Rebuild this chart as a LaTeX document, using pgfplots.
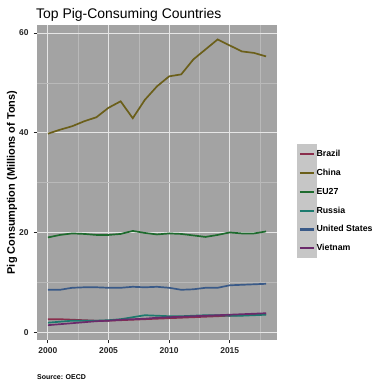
\documentclass[border=0pt]{standalone}
\usepackage{pgfplots}
\pgfplotsset{compat=1.18}
\usepackage{fontspec}
\setmainfont{Liberation Sans}
\definecolor{panelgray}{HTML}{A3A3A3}
\definecolor{gridmajor}{HTML}{E6E6E6}
\definecolor{gridminor}{HTML}{B9B9B9}
\definecolor{keygray}{HTML}{C6C6C6}
\definecolor{txt}{HTML}{262626}
\definecolor{cBrazil}{HTML}{8A2E4C}
\definecolor{cChina}{HTML}{6B5F1A}
\definecolor{cEU}{HTML}{1E6B2E}
\definecolor{cRussia}{HTML}{1C7A6E}
\definecolor{cUS}{HTML}{3A5A88}
\definecolor{cVietnam}{HTML}{6B2A6B}
\begin{document}
\begin{tikzpicture}[x=1bp,y=1bp]
\useasboundingbox (0,0) rectangle (388,388);
\node[anchor=base west, inner sep=0pt, font=\fontsize{14}{16}\selectfont, text=black] at (36,370) {Top Pig-Consuming Countries};
\node[anchor=base west, inner sep=0pt, font=\fontsize{7}{8}\selectfont\bfseries, text=black] at (37,9) {Source: OECD};
\begin{axis}[
  scale only axis, width=240bp, height=315bp,
  at={(37bp,48bp)}, anchor=south west,
  xmin=1999.1, xmax=2018.9, ymin=-1.57, ymax=61.6,
  axis background/.style={fill=panelgray},
  axis line style={draw=none},
  grid=both,
  major grid style={gridmajor, line width=0.9pt},
  minor grid style={gridminor, line width=0.45pt},
  xtick={2000,2005,2010,2015},
  minor xtick={2002.5,2007.5,2012.5,2017.5},
  ytick={0,20,40,60},
  minor ytick={10,30,50},
  tick align=outside,
  major tick length=3.5bp, minor tick length=0pt,
  major tick style={txt, line width=0.9pt},
  xtick pos=bottom, ytick pos=left,
  x tick label style={/pgf/number format/1000 sep={}},
  ticklabel style={font=\fontsize{8.5}{10}\selectfont\bfseries, text=txt},
  yticklabel style={xshift=-1.5bp},
  xticklabel style={yshift=-1bp},
  /pgf/number format/assume math mode=true,
  ylabel={Pig Consumption (Millions of Tons)},
  ylabel style={at={(axis description cs:-0.104,0.5)}, anchor=center, font=\fontsize{11}{13}\selectfont\bfseries, text=black},
  legend cell align=left,
  legend style={at={(rel axis cs:1.083,0.622)}, anchor=north west, draw=none, fill=none,
    font=\fontsize{8.8}{10}\selectfont\bfseries, text=black, inner sep=0pt, row sep=-0.5bp,
    nodes={inner sep=0pt}},
  legend image code/.code={\fill[keygray] (0bp,-8.85bp) rectangle (17.7bp,8.85bp); \draw[#1, line width=2.1pt] (2bp,0bp) -- (15.7bp,0bp);},
  every axis plot/.append style={line width=1.7pt},
  /tikz/every even column/.append style={column sep=6bp},
]
\addplot[cBrazil] coordinates {(2000,2.6)(2001,2.6)(2002,2.5)(2003,2.4)(2004,2.3)(2005,2.3)(2006,2.4)(2007,2.5)(2008,2.6)(2009,2.7)(2010,2.8)(2011,2.9)(2012,3.0)(2013,3.1)(2014,3.2)(2015,3.3)(2016,3.4)(2017,3.5)(2018,3.6)};
\addlegendentry{Brazil}
\addplot[cChina] coordinates {(2000,39.8)(2001,40.6)(2002,41.3)(2003,42.3)(2004,43.1)(2005,45.0)(2006,46.3)(2007,42.9)(2008,46.6)(2009,49.3)(2010,51.3)(2011,51.7)(2012,54.7)(2013,56.7)(2014,58.7)(2015,57.5)(2016,56.3)(2017,56.0)(2018,55.3)};
\addlegendentry{China}
\addplot[cEU] coordinates {(2000,19.0)(2001,19.5)(2002,19.8)(2003,19.7)(2004,19.5)(2005,19.5)(2006,19.7)(2007,20.3)(2008,19.9)(2009,19.6)(2010,19.8)(2011,19.7)(2012,19.4)(2013,19.1)(2014,19.5)(2015,20.0)(2016,19.8)(2017,19.8)(2018,20.2)};
\addlegendentry{EU27}
\addplot[cRussia] coordinates {(2000,1.9)(2001,2.1)(2002,2.3)(2003,2.3)(2004,2.3)(2005,2.4)(2006,2.6)(2007,3.0)(2008,3.4)(2009,3.3)(2010,3.2)(2011,3.2)(2012,3.3)(2013,3.4)(2014,3.4)(2015,3.3)(2016,3.3)(2017,3.4)(2018,3.5)};
\addlegendentry{Russia}
\addplot[cUS] coordinates {(2000,8.5)(2001,8.5)(2002,8.9)(2003,9.0)(2004,9.0)(2005,8.9)(2006,8.9)(2007,9.1)(2008,9.0)(2009,9.1)(2010,8.9)(2011,8.5)(2012,8.6)(2013,8.9)(2014,8.9)(2015,9.4)(2016,9.5)(2017,9.6)(2018,9.7)};
\addlegendentry{United States}
\addplot[cVietnam] coordinates {(2000,1.4)(2001,1.6)(2002,1.8)(2003,2.0)(2004,2.2)(2005,2.3)(2006,2.5)(2007,2.6)(2008,2.7)(2009,2.9)(2010,3.0)(2011,3.1)(2012,3.2)(2013,3.3)(2014,3.4)(2015,3.5)(2016,3.6)(2017,3.7)(2018,3.8)};
\addlegendentry{Vietnam}
\end{axis}
\end{tikzpicture}
\end{document}
